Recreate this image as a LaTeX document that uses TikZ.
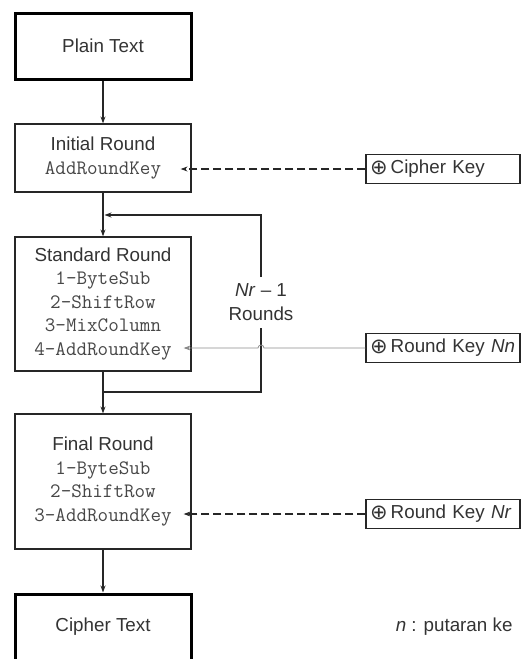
\documentclass[tikz,border=0pt]{standalone}
\usepackage{fontspec}
\setmainfont{Liberation Sans}
\newfontfamily\symfont{DejaVu Sans}
\usetikzlibrary{arrows.meta}

% typewriter lines inside the round boxes
\newcommand{\opline}[1]{{\fontsize{20.5}{23.5}\selectfont\ttfamily\color{black!72}#1}}
\newcommand{\xorsign}{{\symfont\fontsize{21}{18}\selectfont\raisebox{-0.5pt}{⊕}}}

\begin{document}
\begin{tikzpicture}[x=1pt,y=-1pt,
  every node/.style={font=\fontsize{18.8}{23.5}\selectfont, text=black!80},
  endbox/.style={draw=black, line width=3pt, minimum width=176pt, inner sep=0pt},
  roundbox/.style={draw=black!85, line width=1.2pt, minimum width=176pt, align=center, inner sep=0pt},
  keybox/.style={draw=black!85, line width=1.2pt, minimum width=154pt, minimum height=29pt,
                 text width=146pt, align=left, inner xsep=4pt, inner ysep=0pt},
  flow/.style={line width=1.3pt, draw=black!85, -{Stealth[length=7pt,width=5pt]}},
  keyline/.style={line width=1.2pt, draw=black!85, dash pattern=on 8pt off 4pt,
                  -{Stealth[length=7pt,width=5pt]}},
  thinkey/.style={line width=0.8pt, draw=black!45, -{Stealth[length=7pt,width=5pt,fill=black!85]}},
  loopline/.style={line width=1.3pt, draw=black!85}]
\useasboundingbox (0,0) rectangle (531,659);

% main column
\node[endbox, minimum height=66pt] (plain) at (103,46) {Plain Text};
\node[roundbox, minimum height=68pt] (init) at (103,158)
  {Initial Round\\\opline{AddRoundKey}};
\node[roundbox, minimum height=134pt] (std) at (103,304)
  {Standard Round\\\opline{1-ByteSub}\\\opline{2-ShiftRow}\\\opline{3-MixColumn}\\\opline{4-AddRoundKey}};
\node[roundbox, minimum height=135pt] (fin) at (103,481.5)
  {Final Round\\\opline{1-ByteSub}\\\opline{2-ShiftRow}\\\opline{3-AddRoundKey}};
\node[endbox, minimum height=72pt] (ctext) at (103,630) {};
\node at (103,627) (ctlabel) {Cipher Text};

% round keys
\node[keybox] (ck) at (443,169) {\xorsign\,Cipher Key};
\node[keybox] (kn) at (443,348) {\xorsign\,Round Key \textit{Nn}};
\node[keybox] (kr) at (443,514) {\xorsign\,Round Key \textit{Nr}};

% loop label
\node[align=center, inner sep=0pt] (loop) at (261,302) {\textit{Nr} -- 1\\Rounds};
\coordinate (loopT) at (261,277);
\coordinate (loopB) at (261,328);
\coordinate (joinT) at (103,215);
\coordinate (joinB) at (103,392);

% legend
\node[anchor=east] (legend) at (516,627) {\textit{n} : putaran ke};

% main flow
\draw[flow] (plain) -- (init);
\draw[flow] (init) -- (std);
\draw[flow] (std) -- (fin);
\draw[flow] (fin) -- (ctext);

% repetition loop
\draw[loopline, -{Stealth[length=7pt,width=5pt]}] (loopT) |- ([xshift=1.5pt]joinT);
\draw[loopline] (loopB) |- (joinB);

% key inputs
\draw[keyline] (ck.west) -- ([xshift=-11pt]init.east |- ck.west);
\draw[thinkey] (kn.west) -- (264,348) arc[start angle=0, end angle=-180, radius=3] -- ([xshift=-8pt]std.east |- kn.west);
\draw[keyline] (kr.west) -- ([xshift=-8pt]fin.east |- kr.west);
\end{tikzpicture}
\end{document}
